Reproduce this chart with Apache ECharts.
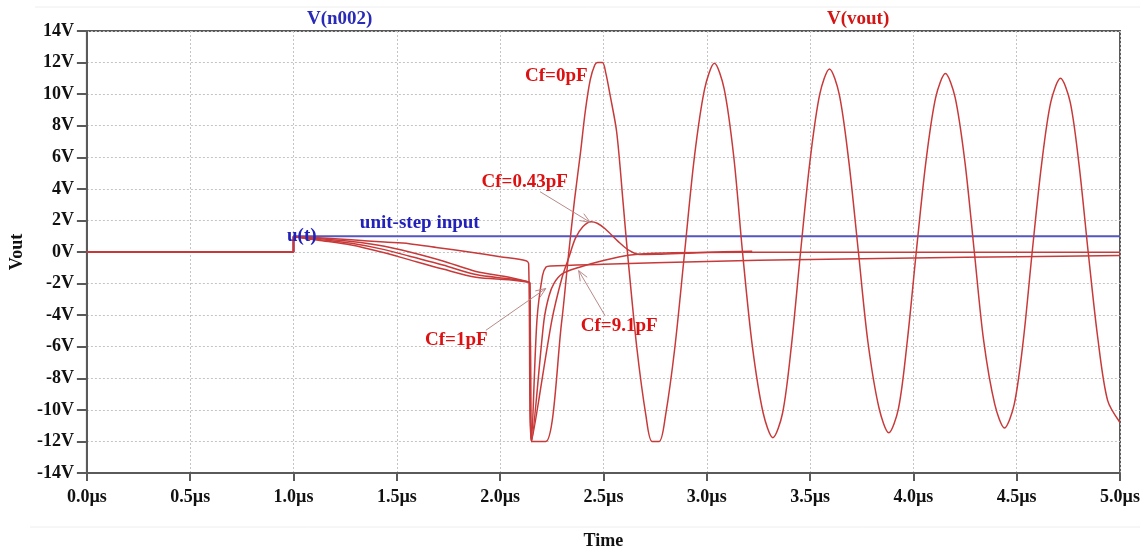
<!DOCTYPE html>
<html><head><meta charset="utf-8">
<script src="https://cdn.jsdelivr.net/npm/echarts@6/dist/echarts.min.js"></script>
<style>html,body{margin:0;padding:0;background:#fff;}#c{width:1146px;height:555px;}</style>
</head><body><div id="c"></div>
<script>
// ---- data (time in µs, voltage in V) ----
const xTickStep = 0.5;
const yTickStep = 2;
const inputStep = [[0,0],[1,0],[1,1],[5,1]];
const cf0pF = [[0,0],[1,0],[1,0.97],[1.12,0.85],[1.28,0.67],[1.44,0.37],[1.5625,0],[1.723,-0.57],[1.883,-1.23],[2.043,-1.6],[2.131,-1.87],[2.143,-1.95],[2.152,-12],[2.221,-12],[2.298,-4.4],[2.33,-0.3],[2.36,3.3],[2.388,6.2],[2.412,8.9],[2.436,10.9],[2.458,11.85],[2.472,12],[2.495,12],[2.512,11.3],[2.532,9.95],[2.564,7.6],[2.596,3.0],[2.616,0],[2.661,-6],[2.706,-10.4],[2.735,-12],[2.77,-12],[2.80,-10.4],[2.846,-6],[2.893,0],[2.94,6],[2.99,10.35],[3.037,11.95],[3.084,10.35],[3.131,6],[3.173,0],[3.22,-5.9],[3.273,-10.2],[3.32,-11.76],[3.367,-10.2],[3.41,-5.9],[3.454,0],[3.5,5.8],[3.547,10.0],[3.594,11.6],[3.641,10.0],[3.687,5.8],[3.734,0],[3.78,-5.7],[3.834,-9.9],[3.881,-11.45],[3.928,-9.9],[3.97,-5.7],[4.014,0],[4.06,5.65],[4.108,9.8],[4.155,11.3],[4.202,9.8],[4.25,5.65],[4.295,0],[4.34,-5.6],[4.394,-9.65],[4.441,-11.15],[4.488,-9.65],[4.532,-5.6],[4.575,0],[4.62,5.5],[4.665,9.5],[4.712,11.0],[4.759,9.5],[4.802,5.5],[4.846,0],[4.892,-5.4],[4.94,-9.4],[5.0,-10.8]];
const cf043pF = [[0,0],[1,0],[1,0.97],[1.12,0.8],[1.28,0.55],[1.44,0.15],[1.5625,-0.27],[1.723,-0.82],[1.883,-1.43],[2.043,-1.7],[2.131,-1.88],[2.143,-1.95],[2.152,-12],[2.25,-4.35],[2.3,-1.6],[2.332,-0.37],[2.364,0.86],[2.40,1.6],[2.44,1.92],[2.47,1.82],[2.508,1.47],[2.572,0.66],[2.62,0.14],[2.676,-0.16],[2.76,-0.15],[2.9,-0.08],[3.05,0.0],[3.22,0.04]];
const cf1pF = [[0,0],[1,0],[1,0.97],[1.12,0.75],[1.28,0.45],[1.44,-0.05],[1.5625,-0.5],[1.723,-1.08],[1.883,-1.6],[2.043,-1.76],[2.131,-1.9],[2.143,-1.95],[2.152,-12],[2.178,-4.35],[2.205,-1.5],[2.222,-0.95],[2.245,-0.88],[2.5,-0.78],[3.0,-0.6],[3.5,-0.47],[4.0,-0.38],[4.5,-0.3],[5.0,-0.22]];
const cf91pF = [[0,0],[1,0],[1,0.97],[1.12,0.9],[1.28,0.77],[1.44,0.63],[1.56,0.53],[1.7,0.27],[1.85,0.0],[2.0,-0.3],[2.125,-0.55],[2.138,-0.75],[2.152,-12],[2.212,-4.35],[2.236,-2.8],[2.26,-2.0],[2.3,-1.39],[2.38,-0.98],[2.49,-0.57],[2.62,-0.2],[2.8,-0.06],[3.2,-0.02],[4.0,-0.02],[5.0,-0.02]];
const redSeries = [cf0pF, cf043pF, cf1pF, cf91pF];

// ---- annotations (data coordinates) ----
const notes = [
  {text:'Cf=0pF', at:[2.272,11.17], color:'#dd1111'},
  {text:'Cf=0.43pF', at:[2.119,4.43], color:'#dd1111'},
  {text:'unit-step input', at:[1.611,1.83], color:'#2222bb'},
  {text:'u(t)', at:[1.04,1.01], color:'#2222bb'},
  {text:'Cf=1pF', at:[1.788,-5.58], color:'#dd1111'},
  {text:'Cf=9.1pF', at:[2.576,-4.7], color:'#dd1111'}
];
const arrows = [
  {from:[2.193,3.82], to:[2.436,1.88]},
  {from:[1.931,-4.96], to:[2.221,-2.31]},
  {from:[2.508,-4.04], to:[2.38,-1.18]}
];

const FONT = '"Liberation Serif","Times New Roman",serif';
const chart = echarts.init(document.getElementById('c'), null, {renderer:'canvas'});
const redColor = '#c83a3a';
const series = [{
  type:'line', data: inputStep, showSymbol:false, symbol:'none',
  lineStyle:{color:'#5656c0', width:2}, z:2, animation:false
}].concat(redSeries.map(d => ({
  type:'line', data:d, showSymbol:false, symbol:'none', smooth:0.3,
  lineStyle:{color:redColor, width:1.5}, z:3, animation:false
})));

const option = {
  animation:false,
  backgroundColor:'#ffffff',
  grid:{left:80, right:26, top:31, bottom:67, show:true, borderColor:'#5a5a5a', borderWidth:2},
  xAxis:{
    type:'value', min:0, max:5, interval:xTickStep,
    axisLine:{show:true, onZero:false, lineStyle:{color:'#5a5a5a', width:2}},
    axisTick:{show:true, length:8, lineStyle:{color:'#5a5a5a', width:2}},
    axisLabel:{formatter:v => v.toFixed(1)+'µs', fontFamily:FONT, fontWeight:'bold', fontSize:18, color:'#111', margin:15},
    splitLine:{show:true, lineStyle:{type:[2,2], color:'#c4c4c4', width:1}},
    name:'Time', nameLocation:'middle', nameGap:59,
    nameTextStyle:{fontFamily:FONT, fontWeight:'bold', fontSize:18, color:'#111'}
  },
  yAxis:{
    type:'value', min:-14, max:14, interval:yTickStep,
    axisLine:{show:true, onZero:false, lineStyle:{color:'#5a5a5a', width:2}},
    axisTick:{show:true, length:10, lineStyle:{color:'#5a5a5a', width:2}},
    axisLabel:{formatter:v => v+'V', fontFamily:FONT, fontWeight:'bold', fontSize:18, color:'#111', margin:13},
    splitLine:{show:true, lineStyle:{type:[2,2], color:'#c4c4c4', width:1}},
    name:'Vout', nameLocation:'middle', nameGap:57, nameRotate:90,
    nameTextStyle:{fontFamily:FONT, fontWeight:'bold', fontSize:18, color:'#111'}
  },
  series: series
};
chart.setOption(option);

const px = p => chart.convertToPixel({gridIndex:0}, p);
const g = [];
g.push({type:'line', shape:{x1:35,y1:7,x2:1140,y2:7}, style:{stroke:'#eeeeee', lineWidth:1}, z:1});
g.push({type:'line', shape:{x1:30,y1:527,x2:1140,y2:527}, style:{stroke:'#eeeeee', lineWidth:1}, z:1});
g.push({type:'text', left:307, top:10, style:{text:'V(n002)', fill:'#2a2ab8', font:'bold 19px '+FONT}, z:10});
g.push({type:'text', left:827, top:10, style:{text:'V(vout)', fill:'#d41515', font:'bold 19px '+FONT}, z:10});
notes.forEach(n => {
  const p = px(n.at);
  g.push({type:'text', x:p[0], y:p[1], style:{text:n.text, fill:n.color, font:'bold 19px '+FONT, align:'center', verticalAlign:'middle'}, z:10});
});
arrows.forEach(a => {
  const s = px(a.from), e = px(a.to);
  const dx = e[0]-s[0], dy = e[1]-s[1], L = Math.hypot(dx,dy);
  const ux = dx/L, uy = dy/L, nx = -uy, ny = ux;
  const w1 = [e[0]-10*ux+4*nx, e[1]-10*uy+4*ny], w2 = [e[0]-10*ux-4*nx, e[1]-10*uy-4*ny];
  g.push({type:'line', shape:{x1:s[0],y1:s[1],x2:e[0],y2:e[1]}, style:{stroke:'#b98a8a', lineWidth:1}, z:9});
  g.push({type:'polyline', shape:{points:[w1,e,w2]}, style:{stroke:'#b98a8a', lineWidth:1, fill:null}, z:9});
});
chart.setOption({graphic:g});
</script>
</body></html>
